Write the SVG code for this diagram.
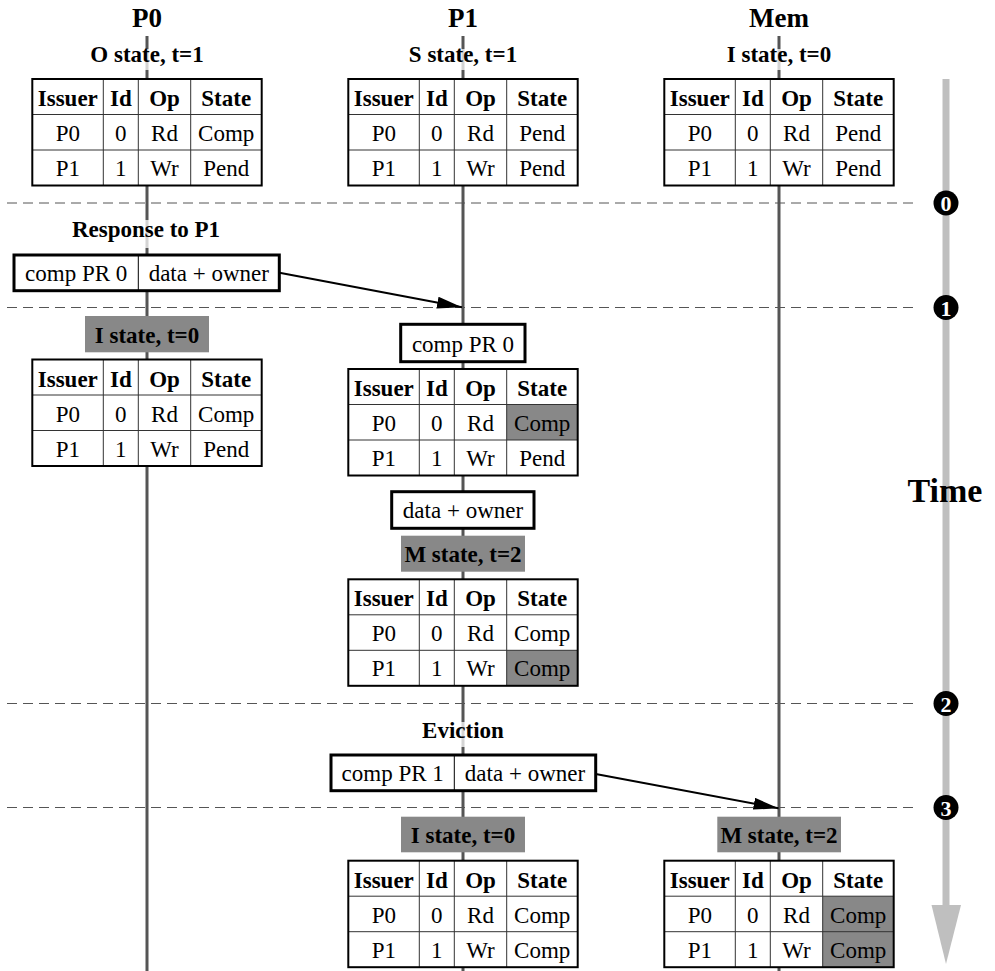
<svg xmlns="http://www.w3.org/2000/svg" width="995" height="971" viewBox="0 0 995 971">
  <style>
    text { font-family: "Liberation Serif", "Times New Roman", serif; font-size: 23px; text-anchor: middle; fill: #000; }
    .title { font-size: 27px; font-weight: bold; }
    .b { font-weight: bold; }
    .time { font-size: 34px; font-weight: bold; }
    .lifeline { stroke: #555; stroke-width: 3; }
    .phase { stroke: #555; stroke-width: 1; stroke-dasharray: 10 6; }
    .halo { fill: #fff; fill-opacity: 0.75; }
    .tag { fill: #888; }
    .cell { fill: #fff; }
    .hl { fill: #888; }
    .grid { stroke: #333; stroke-width: 1; fill: none; }
    .frame { stroke: #000; stroke-width: 2; fill: none; }
    .msg { fill: #fff; stroke: #000; stroke-width: 3; }
    .div { stroke: #000; stroke-width: 1; }
    .arrow { stroke: #000; stroke-width: 2; fill: none; marker-end: url(#head); }
    .step circle { fill: #000; }
    .step text { fill: #fff; font-size: 22px; font-weight: bold; }
  </style>
  <defs>
    <marker id="head" markerUnits="userSpaceOnUse" markerWidth="26" markerHeight="14" refX="25" refY="6" orient="auto">
      <path d="M0,0 L25,6 L0,12 z" fill="#000"/>
    </marker>
    <!-- empty table skeleton: frame + grid -->
    <g id="grid">
      <line class="grid" x1="0" y1="35.5" x2="229.4" y2="35.5"/>
      <line class="grid" x1="0" y1="71" x2="229.4" y2="71"/>
      <line class="grid" x1="71" y1="0" x2="71" y2="106.5"/>
      <line class="grid" x1="106" y1="0" x2="106" y2="106.5"/>
      <line class="grid" x1="158.4" y1="0" x2="158.4" y2="106.5"/>
      <rect class="frame" x="0" y="0" width="229.4" height="106.5"/>
    </g>
    <g id="head-row">
      <text class="b" x="35.5" y="27">Issuer</text>
      <text class="b" x="88.5" y="27">Id</text>
      <text class="b" x="132.2" y="27">Op</text>
      <text class="b" x="193.9" y="27">State</text>
      <text x="35.5" y="62">P0</text>
      <text x="88.5" y="62">0</text>
      <text x="132.2" y="62">Rd</text>
      <text x="35.5" y="97">P1</text>
      <text x="88.5" y="97">1</text>
      <text x="132.2" y="97">Wr</text>
    </g>
  </defs>

  <!-- lifelines and phase boundaries -->
  <g id="connectors">
    <line class="lifeline" x1="147" y1="36" x2="147" y2="971"/>
    <line class="lifeline" x1="463" y1="36" x2="463" y2="971"/>
    <line class="lifeline" x1="779" y1="36" x2="779" y2="971"/>
    <line class="phase" x1="7" y1="203" x2="915" y2="203"/>
    <line class="phase" x1="7" y1="307.5" x2="915" y2="307.5"/>
    <line class="phase" x1="7" y1="703.5" x2="915" y2="703.5"/>
    <line class="phase" x1="7" y1="807.5" x2="915" y2="807.5"/>
    <line class="arrow" x1="279.5" y1="272.7" x2="462" y2="307.3"/>
    <line class="arrow" x1="595.7" y1="774" x2="778.5" y2="808.3"/>
  </g>

  <!-- time axis -->
  <g id="time-axis">
    <line x1="946" y1="79" x2="946" y2="906" stroke="#bfbfbf" stroke-width="7"/>
    <polygon points="931.5,905 961,905 946,964" fill="#bfbfbf"/>
    <text class="time" x="945" y="501.7">Time</text>
    <g class="step"><circle cx="946" cy="203" r="12.5"/><text x="946" y="211">0</text></g>
    <g class="step"><circle cx="946" cy="307.5" r="12.5"/><text x="946" y="315.5">1</text></g>
    <g class="step"><circle cx="946" cy="703.5" r="12.5"/><text x="946" y="711.5">2</text></g>
    <g class="step"><circle cx="946" cy="807.5" r="12.5"/><text x="946" y="815.5">3</text></g>
  </g>

  <!-- column titles -->
  <g id="title-p0"><text class="title" x="147" y="26.5">P0</text></g>
  <g id="title-p1"><text class="title" x="463" y="26.5">P1</text></g>
  <g id="title-mem"><text class="title" x="779" y="26.5">Mem</text></g>

  <!-- initial states -->
  <g id="p0-state0">
    <rect class="halo" x="140" y="49" width="14" height="21"/>
    <text class="b" x="147" y="62.3">O state, t=1</text>
  </g>
  <g id="p1-state0">
    <rect class="halo" x="456" y="49" width="14" height="21"/>
    <text class="b" x="463" y="62.3">S state, t=1</text>
  </g>
  <g id="mem-state0">
    <rect class="halo" x="772" y="49" width="14" height="21"/>
    <text class="b" x="779" y="62.3">I state, t=0</text>
  </g>

  <g id="p0-table0" transform="translate(32.3,79)">
    <rect class="cell" width="229.4" height="106.5"/>
    <use href="#grid"/><use href="#head-row"/>
    <text x="193.9" y="62">Comp</text><text x="193.9" y="97">Pend</text>
  </g>
  <g id="p1-table0" transform="translate(348.3,79)">
    <rect class="cell" width="229.4" height="106.5"/>
    <use href="#grid"/><use href="#head-row"/>
    <text x="193.9" y="62">Pend</text><text x="193.9" y="97">Pend</text>
  </g>
  <g id="mem-table0" transform="translate(664.3,79)">
    <rect class="cell" width="229.4" height="106.5"/>
    <use href="#grid"/><use href="#head-row"/>
    <text x="193.9" y="62">Pend</text><text x="193.9" y="97">Pend</text>
  </g>

  <!-- response to P1 -->
  <g id="resp-label">
    <rect class="halo" x="140" y="220" width="14" height="28"/>
    <text class="b" x="146" y="236.7">Response to P1</text>
  </g>
  <g id="resp-msg">
    <rect class="msg" x="14" y="255" width="265.3" height="35.7"/>
    <line class="div" x1="138.3" y1="255" x2="138.3" y2="290.7"/>
    <text x="76.2" y="280.7">comp PR 0</text>
    <text x="208.8" y="280.7">data + owner</text>
  </g>

  <!-- P0 after response -->
  <g id="p0-state1">
    <rect class="tag" x="85" y="316" width="124" height="36.3"/>
    <text class="b" x="147" y="343.3">I state, t=0</text>
  </g>
  <g id="p0-table1" transform="translate(32.3,359.5)">
    <rect class="cell" width="229.4" height="106.5"/>
    <use href="#grid"/><use href="#head-row"/>
    <text x="193.9" y="62">Comp</text><text x="193.9" y="97">Pend</text>
  </g>

  <!-- P1 receives response -->
  <g id="p1-comp">
    <rect class="msg" x="400.7" y="324.3" width="124.3" height="37.4"/>
    <text x="463" y="351.7">comp PR 0</text>
  </g>
  <g id="p1-table1" transform="translate(348.3,369)">
    <rect class="cell" width="229.4" height="106.5"/>
    <rect class="hl" x="158.4" y="35.5" width="71" height="35.5"/>
    <use href="#grid"/><use href="#head-row"/>
    <text x="193.9" y="62">Comp</text><text x="193.9" y="97">Pend</text>
  </g>
  <g id="p1-data">
    <rect class="msg" x="391.7" y="491.7" width="142.3" height="36.6"/>
    <text x="463" y="518.3">data + owner</text>
  </g>
  <g id="p1-state1">
    <rect class="tag" x="401" y="535.7" width="124" height="36"/>
    <text class="b" x="463" y="561.7">M state, t=2</text>
  </g>
  <g id="p1-table2" transform="translate(348.3,579.3)">
    <rect class="cell" width="229.4" height="106.5"/>
    <rect class="hl" x="158.4" y="71" width="71" height="35.5"/>
    <use href="#grid"/><use href="#head-row"/>
    <text x="193.9" y="62">Comp</text><text x="193.9" y="97">Comp</text>
  </g>

  <!-- eviction -->
  <g id="evict-label">
    <rect class="halo" x="456" y="722" width="14" height="25"/>
    <text class="b" x="463" y="738.3">Eviction</text>
  </g>
  <g id="evict-msg">
    <rect class="msg" x="331" y="755" width="264.7" height="35.7"/>
    <line class="div" x1="454.3" y1="755" x2="454.3" y2="790.7"/>
    <text x="392.7" y="780.7">comp PR 1</text>
    <text x="525" y="780.7">data + owner</text>
  </g>

  <!-- final states -->
  <g id="p1-state2">
    <rect class="tag" x="401" y="816.7" width="124" height="35.6"/>
    <text class="b" x="463" y="843.3">I state, t=0</text>
  </g>
  <g id="p1-table3" transform="translate(348.3,860.7)">
    <rect class="cell" width="229.4" height="106.5"/>
    <use href="#grid"/><use href="#head-row"/>
    <text x="193.9" y="62">Comp</text><text x="193.9" y="97">Comp</text>
  </g>
  <g id="mem-state1">
    <rect class="tag" x="717.3" y="816.7" width="123.7" height="35.6"/>
    <text class="b" x="779" y="843.3">M state, t=2</text>
  </g>
  <g id="mem-table1" transform="translate(664.3,860.7)">
    <rect class="cell" width="229.4" height="106.5"/>
    <rect class="hl" x="158.4" y="35.5" width="71" height="71"/>
    <use href="#grid"/><use href="#head-row"/>
    <text x="193.9" y="62">Comp</text><text x="193.9" y="97">Comp</text>
  </g>
</svg>
